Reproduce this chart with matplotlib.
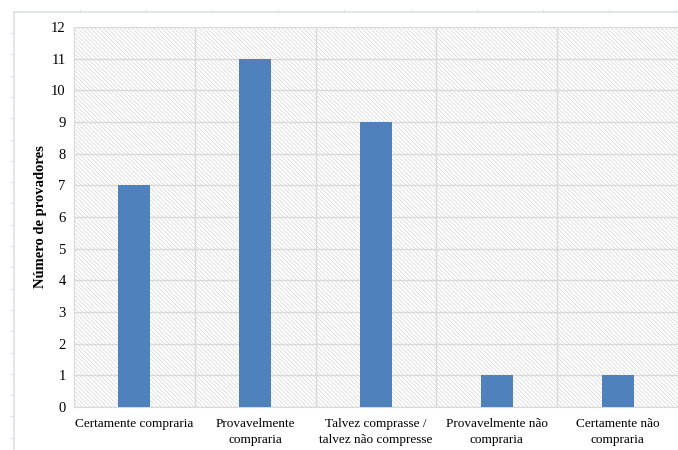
import matplotlib
matplotlib.use('Agg')
import matplotlib.pyplot as plt
from matplotlib.patches import Rectangle
from matplotlib.lines import Line2D

# data
categories = ['Certamente compraria', 'Provavelmente\ncompraria',
              'Talvez comprasse /\ntalvez não compresse',
              'Provavelmente não\ncompraria', 'Certamente não\ncompraria']
values = [7, 11, 9, 1, 1]

plt.rcParams['font.family'] = ['Liberation Serif', 'DejaVu Serif']
plt.rcParams['hatch.linewidth'] = 0.5
plt.rcParams['hatch.color'] = '#d6d6d6'

grid_col = '#d9d9d9'
fig = plt.figure(figsize=(6.78, 4.5), dpi=100)
ax = fig.add_axes([74/678, 43/450, 604/678, 380/450])

# hatched plot area background
ax.add_patch(Rectangle((0, 0), 1, 1, transform=ax.transAxes, facecolor='white',
                       edgecolor='#d6d6d6', hatch='\\' * 8, linewidth=0, zorder=0))

x = range(len(categories))
ax.bar(x, values, width=0.265, color='#4f81bd', zorder=3)

ax.set_xlim(-0.5, len(categories) - 0.5)
ax.set_ylim(0, 12)
ax.set_yticks(range(0, 13))
ax.set_xticks(list(x))
ax.set_xticklabels(categories, fontsize=9.5, linespacing=1.45)
ax.set_xticks([i + 0.5 for i in range(len(categories) - 1)], minor=True)
ax.tick_params(axis='y', length=0, pad=6, labelsize=10.5)
ax.tick_params(axis='x', which='both', length=0, pad=8)

ax.grid(axis='y', color=grid_col, linewidth=1, zorder=1)
ax.grid(axis='x', which='minor', color=grid_col, linewidth=1, zorder=1)
ax.set_axisbelow(True)
for s in ['top', 'right']:
    ax.spines[s].set_visible(False)
for s in ['left', 'bottom']:
    ax.spines[s].set_color(grid_col)

ax.set_ylabel('Número de provadores', fontsize=10.5, fontweight='bold', labelpad=3)

# spreadsheet-style outer frame
fl = '#dde0e6'
fig.add_artist(Line2D([14/678, 1], [1 - 12/450, 1 - 12/450], color=fl, lw=1.2))
fig.add_artist(Line2D([14/678, 14/678], [0, 1 - 12/450], color=fl, lw=1.2))
yy = 33
while yy < 450:
    fig.add_artist(Line2D([10/678, 14/678], [1 - yy/450, 1 - yy/450], color=fl, lw=0.8))
    yy += 21.3
xx = 80
while xx < 678:
    fig.add_artist(Line2D([xx/678, xx/678], [1 - 10/450, 1 - 12/450], color=fl, lw=0.8))
    xx += 66.1

fig.savefig('out.png', dpi=100)
